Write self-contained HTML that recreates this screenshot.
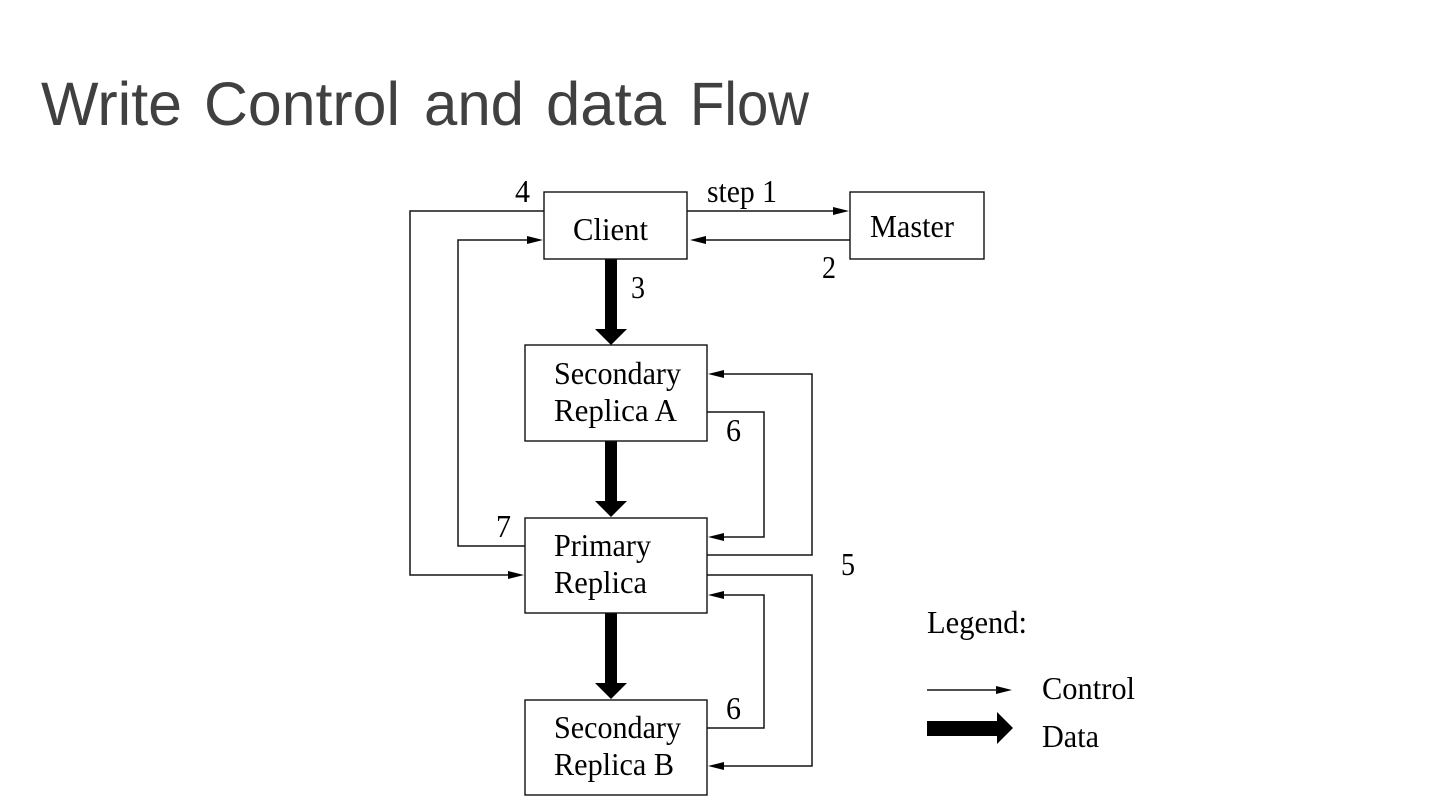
<!DOCTYPE html>
<html>
<head>
<meta charset="utf-8">
<title>Write Control and data Flow</title>
<style>
html,body{margin:0;padding:0;background:#fff;width:1440px;height:810px;overflow:hidden}
svg{display:block}
.t{font-family:"Liberation Serif",serif;font-size:32px;fill:#000}
.h{font-family:"Liberation Sans",sans-serif;font-size:61px;fill:#404040}
.b{fill:#fff;stroke:#111;stroke-width:1.4}
.l{fill:none;stroke:#151515;stroke-width:1.5}
</style>
</head>
<body>
<svg width="1440" height="810" viewBox="0 0 1440 810" xmlns="http://www.w3.org/2000/svg">
<rect width="1440" height="810" fill="#fff"/>
<text class="h" x="41" y="125" textLength="141" lengthAdjust="spacingAndGlyphs">Write</text>
<text class="h" x="204" y="125" textLength="196" lengthAdjust="spacingAndGlyphs">Control</text>
<text class="h" x="424" y="125" textLength="100" lengthAdjust="spacingAndGlyphs">and</text>
<text class="h" x="546" y="125" textLength="120" lengthAdjust="spacingAndGlyphs">data</text>
<text class="h" x="690" y="125" textLength="119" lengthAdjust="spacingAndGlyphs">Flow</text>

<!-- connectors -->
<path class="l" d="M544 211H410V575H514"/>
<path class="l" d="M525 546H458V240H532"/>
<path class="l" d="M687 211H836"/>
<path class="l" d="M850 240H704"/>
<path class="l" d="M707 555H812V374H722"/>
<path class="l" d="M707 575H812V766H722"/>
<path class="l" d="M707 412H764V537H722"/>
<path class="l" d="M707 728H764V595H722"/>

<!-- thin arrowheads -->
<g fill="#000">
<path d="M849 211L833 207V215Z"/>
<path d="M690 240L706 236V244Z"/>
<path d="M543 240L527 236V244Z"/>
<path d="M524 575L508 571V579Z"/>
<path d="M708 374L724 370V378Z"/>
<path d="M708 537L724 533V541Z"/>
<path d="M708 595L724 591V599Z"/>
<path d="M708 766L724 762V770Z"/>
<path d="M1012 690L996 686V694Z"/>
</g>
<path class="l" d="M927 690H998"/>

<!-- thick arrows -->
<g fill="#000">
<path d="M605 259H617V329H627L611 345L595 329H605Z"/>
<path d="M605 441H617V501H627L611 517L595 501H605Z"/>
<path d="M605 613H617V683H627L611 699L595 683H605Z"/>
<path d="M927 721H997V712L1013 728L997 744V736H927Z"/>
</g>

<!-- boxes -->
<rect class="b" x="544" y="192" width="143" height="67"/>
<rect class="b" x="850" y="192" width="134" height="67"/>
<rect class="b" x="525" y="345" width="182" height="96"/>
<rect class="b" x="525" y="518" width="182" height="95"/>
<rect class="b" x="525" y="700" width="182" height="95"/>

<!-- labels -->
<text class="t" x="573" y="240" textLength="75" lengthAdjust="spacingAndGlyphs">Client</text>
<text class="t" x="870" y="237" textLength="84" lengthAdjust="spacingAndGlyphs">Master</text>
<text class="t" x="707" y="202" textLength="70" lengthAdjust="spacingAndGlyphs">step 1</text>
<text class="t" x="515" y="202" textLength="15" lengthAdjust="spacingAndGlyphs">4</text>
<text class="t" x="822" y="278" textLength="14" lengthAdjust="spacingAndGlyphs">2</text>
<text class="t" x="631" y="298" textLength="14" lengthAdjust="spacingAndGlyphs">3</text>
<text class="t" x="554" y="384" textLength="127" lengthAdjust="spacingAndGlyphs">Secondary</text>
<text class="t" x="554" y="421" textLength="123" lengthAdjust="spacingAndGlyphs">Replica A</text>
<text class="t" x="726" y="441" textLength="15" lengthAdjust="spacingAndGlyphs">6</text>
<text class="t" x="496" y="537" textLength="15" lengthAdjust="spacingAndGlyphs">7</text>
<text class="t" x="554" y="556" textLength="97" lengthAdjust="spacingAndGlyphs">Primary</text>
<text class="t" x="554" y="593" textLength="93" lengthAdjust="spacingAndGlyphs">Replica</text>
<text class="t" x="841" y="575" textLength="14" lengthAdjust="spacingAndGlyphs">5</text>
<text class="t" x="726" y="719" textLength="15" lengthAdjust="spacingAndGlyphs">6</text>
<text class="t" x="554" y="738" textLength="127" lengthAdjust="spacingAndGlyphs">Secondary</text>
<text class="t" x="554" y="775" textLength="120" lengthAdjust="spacingAndGlyphs">Replica B</text>
<text class="t" x="927" y="633" textLength="100" lengthAdjust="spacingAndGlyphs">Legend:</text>
<text class="t" x="1042" y="699" textLength="93" lengthAdjust="spacingAndGlyphs">Control</text>
<text class="t" x="1042" y="747" textLength="57" lengthAdjust="spacingAndGlyphs">Data</text>
</svg>
</body>
</html>
